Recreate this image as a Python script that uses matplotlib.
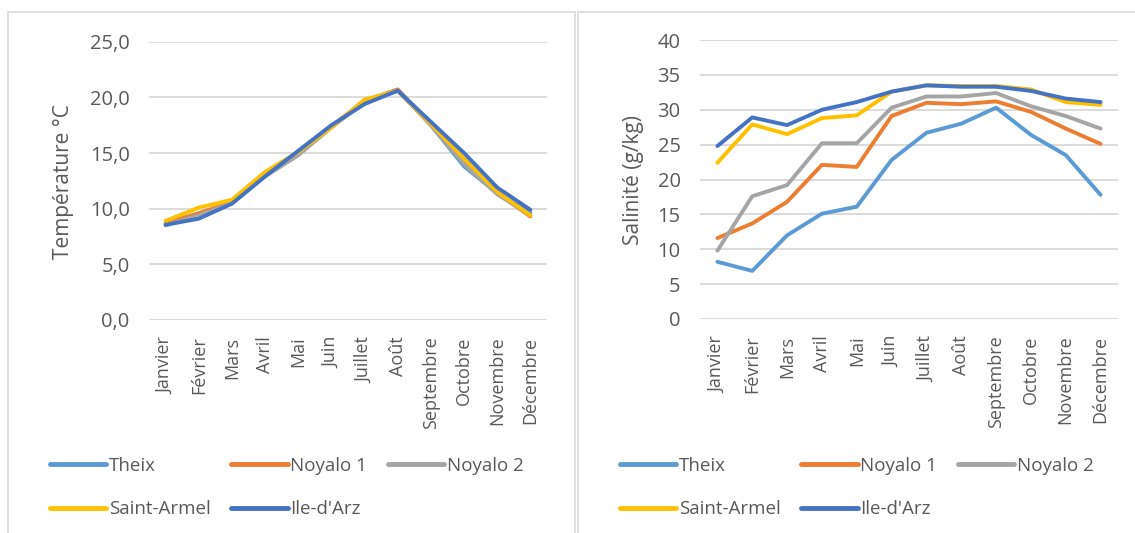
import matplotlib
matplotlib.use("Agg")
import matplotlib.pyplot as plt
from matplotlib.patches import Rectangle
from matplotlib.ticker import FuncFormatter

plt.rcParams['font.family'] = ['Open Sans', 'DejaVu Sans']

# ── Données ──
mois = ["Janvier", "Février", "Mars", "Avril", "Mai", "Juin", "Juillet",
        "Août", "Septembre", "Octobre", "Novembre", "Décembre"]
stations = ["Theix", "Noyalo 1", "Noyalo 2", "Saint-Armel", "Ile-d'Arz"]
couleurs = ["#5B9BD5", "#ED7D31", "#A5A5A5", "#FFC000", "#4472C4"]

temp_theix = [8.6, 9.2, 10.5, 13.0, 14.9, 17.4, 19.6, 20.7, 17.5, 13.8, 11.4, 9.6]
temp_noyalo1 = [8.7, 9.6, 10.6, 13.1, 15.0, 17.4, 19.7, 20.7, 17.6, 14.2, 11.4, 9.3]
temp_noyalo2 = [8.5, 9.4, 10.5, 12.9, 14.8, 17.3, 19.6, 20.6, 17.5, 14.0, 11.3, 9.4]
temp_saint_armel = [8.9, 10.1, 10.8, 13.3, 15.1, 17.3, 19.8, 20.6, 17.6, 14.5, 11.5, 9.4]
temp_ile_darz = [8.55, 9.1, 10.45, 12.9, 15.2, 17.5, 19.4, 20.6, 17.8, 15.0, 11.9, 9.9]

sal_theix = [8.2, 6.9, 12.0, 15.1, 16.1, 22.8, 26.7, 28.0, 30.3, 26.4, 23.5, 17.8]
sal_noyalo1 = [11.6, 13.7, 16.8, 22.1, 21.8, 29.1, 31.0, 30.8, 31.2, 29.7, 27.3, 25.1]
sal_noyalo2 = [9.8, 17.6, 19.2, 25.2, 25.2, 30.3, 31.9, 31.9, 32.4, 30.5, 29.1, 27.3]
sal_saint_armel = [22.4, 27.9, 26.5, 28.8, 29.2, 32.6, 33.5, 33.4, 33.4, 32.9, 31.1, 30.7]
sal_ile_darz = [24.8, 28.9, 27.8, 30.0, 31.1, 32.6, 33.5, 33.3, 33.3, 32.7, 31.6, 31.1]

temperatures = [temp_theix, temp_noyalo1, temp_noyalo2, temp_saint_armel, temp_ile_darz]
salinites = [sal_theix, sal_noyalo1, sal_noyalo2, sal_saint_armel, sal_ile_darz]

W, H = 1135, 533
fig = plt.figure(figsize=(W / 100, H / 100), dpi=100)
fig.patch.set_facecolor("white")


def px(x, y):
    # pixels (depuis le coin haut gauche) -> coordonnées figure
    return x / W, 1 - y / H


# ── Cadres des deux graphiques ──
for x0, x1 in [(8, 575), (578, 1140)]:
    fig.patches.append(Rectangle(px(x0, 540), (x1 - x0) / W, (540 - 12) / H,
                                 transform=fig.transFigure, fill=False,
                                 edgecolor="#D9D9D9", linewidth=1.2))


def style_axe(ax, ymax, fmt):
    ax.set_xlim(-0.5, len(mois) - 0.5)
    ax.set_ylim(0, ymax)
    ax.set_yticks(range(0, ymax + 1, 5))
    ax.yaxis.set_major_formatter(FuncFormatter(fmt))
    ax.set_xticks(range(len(mois)))
    ax.set_xticklabels(mois, rotation=90, fontsize=13, color="#595959")
    ax.tick_params(axis="y", labelsize=14.5, labelcolor="#595959", length=0, pad=14)
    ax.tick_params(axis="x", length=0, pad=12)
    for s in ax.spines.values():
        s.set_visible(False)
    ax.grid(axis="y", color="#D9D9D9", linewidth=1.3)
    ax.set_axisbelow(True)


# ── Température ──
ax1 = fig.add_axes([149 / W, 1 - 320 / H, 398 / W, 278.3 / H])
for vals, nom, c in zip(temperatures, stations, couleurs):
    ax1.plot(range(len(mois)), vals, color=c, linewidth=2.8, label=nom,
             solid_capstyle="round", solid_joinstyle="round")
style_axe(ax1, 25, lambda v, p: f"{v:.1f}".replace(".", ","))
fig.text(*px(63, 182), "Température °C", rotation=90, fontsize=15,
         color="#595959", ha="center", va="center")

# ── Salinité ──
ax2 = fig.add_axes([700 / W, 1 - 319 / H, 418 / W, 279 / H])
for vals, nom, c in zip(salinites, stations, couleurs):
    ax2.plot(range(len(mois)), vals, color=c, linewidth=2.8, label=nom,
             solid_capstyle="round", solid_joinstyle="round")
style_axe(ax2, 40, lambda v, p: f"{v:.0f}")
fig.text(*px(633, 180), "Salinité (g/kg)", rotation=90, fontsize=15,
         color="#595959", ha="center", va="center")

# ── Légendes (remplissage ligne par ligne) ──
ordre = [0, 3, 1, 4, 2]
for ax, x0 in [(ax1, 50), (ax2, 620)]:
    h, l = ax.get_legend_handles_labels()
    leg = fig.legend([h[i] for i in ordre], [l[i] for i in ordre],
                     loc="upper left", bbox_to_anchor=px(x0, 457),
                     ncol=3, frameon=False, fontsize=13.5, handlelength=3.0,
                     handletextpad=0.15, columnspacing=1.1, labelspacing=1.35,
                     borderpad=0, borderaxespad=0)
    for line in leg.get_lines():
        line.set_linewidth(3.5)
        line.set_solid_capstyle("round")
    for t in leg.get_texts():
        t.set_color("#595959")

fig.savefig("out.png", dpi=100)
